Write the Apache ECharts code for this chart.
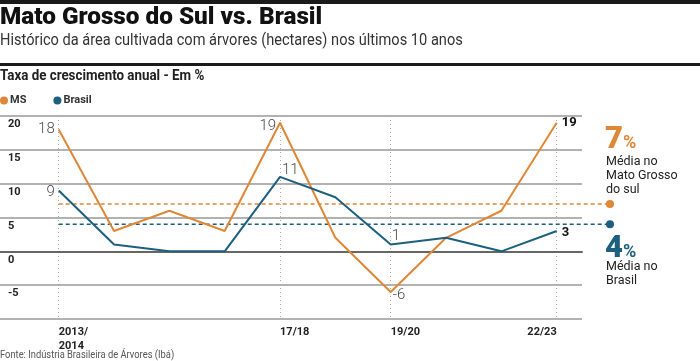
<!DOCTYPE html>
<html><head><meta charset="utf-8">
<script src="https://cdn.jsdelivr.net/npm/echarts@6/dist/echarts.min.js"></script>
<style>html,body{margin:0;padding:0;background:#fff}#c{width:700px;height:361px}</style>
</head><body><div id="c"></div>
<script>
const categories = ['2013/\n2014','14/15','15/16','16/17','17/18','18/19','19/20','20/21','21/22','22/23'];
const labeledIdx = [0,4,6,9];
const msValues = [18,3,6,3,19,2,-6,2,6,19];
const brValues = [9,1,0,0,11,8,1,2,0,3];
const msAverage = 7;
const brAverage = 4;
const yMin = -10, yMax = 20, yStep = 5;

const ORANGE = '#de8735', BLUE = '#1c5f7e';
const F = 'Roboto, sans-serif';

const thin = {fontFamily: F, fontWeight: 300, fontSize: 15, color: '#4a4a4a'};
const boldEnd = {fontFamily: F, fontWeight: 'bold', fontSize: 13, color: '#111'};
const msLabels = {0:{position:'left',distance:4,...thin},4:{position:'left',distance:4,offset:[0,3],...thin},6:{position:'right',distance:2,offset:[0,3],...thin},9:{position:'right',distance:5,...boldEnd}};
const brLabels = {0:{position:'left',distance:4,offset:[0,2],...thin},4:{position:'right',distance:2,offset:[0,-7],...thin},6:{position:'right',distance:1,offset:[0,-8],...thin},9:{position:'right',distance:5,offset:[0,2],...boldEnd}};
function items(vals, lab){return vals.map((v,i)=>lab[i]?{value:v,label:Object.assign({show:true},lab[i])}:{value:v});}

const xData = categories.map((c,i)=>({value:c,textStyle:{align: i===categories.length-1?'right':'left'}}));
const yBase = {min:yMin,max:yMax,interval:yStep};

const chart = echarts.init(document.getElementById('c'));
chart.setOption({
  animation:false,
  textStyle:{fontFamily:F},
  legend:{left:0,top:95,padding:0,icon:'circle',itemWidth:8,itemHeight:8,itemGap:27,
    textStyle:{fontFamily:F,fontWeight:'bold',fontSize:11,color:'#333',padding:[0,0,0,-3]},
    data:['MS','Brasil']},
  grid:[
    {left:0,right:118,top:116,bottom:42},
    {left:58.7,right:143.3,top:116,bottom:42},
    {left:58.7,right:90,top:116,bottom:42}
  ],
  xAxis:[
    {gridIndex:0,type:'value',min:0,max:1,axisLabel:{show:false},axisTick:{show:false},splitLine:{show:false},
      axisLine:{show:true,lineStyle:{color:'#666',width:2}}},
    {gridIndex:1,type:'category',boundaryGap:false,data:xData,axisTick:{show:false},axisLine:{show:false},
      axisLabel:{interval:(i)=>labeledIdx.includes(i),fontFamily:F,fontWeight:'bold',fontSize:11,color:'#222',lineHeight:14,margin:6},
      splitLine:{show:true,interval:(i)=>labeledIdx.includes(i),lineStyle:{color:'#aaa',width:1,type:[1,3]}}},
    {gridIndex:2,type:'value',min:0,max:1,show:false}
  ],
  yAxis:[
    Object.assign({gridIndex:0,type:'value',axisLine:{show:false},axisTick:{show:false},
      axisLabel:{inside:true,margin:8,verticalAlign:'top',padding:[3,0,0,0],fontFamily:F,fontWeight:'bold',fontSize:11,color:'#222',
        formatter:(v)=>v===yMin?'':String(v)},
      splitLine:{lineStyle:{color:'#999',width:1.6}}},yBase),
    Object.assign({gridIndex:1,type:'value',show:false,splitLine:{show:false}},yBase),
    Object.assign({gridIndex:2,type:'value',show:false,splitLine:{show:false}},yBase)
  ],
  series:[
    {type:'line',xAxisIndex:2,yAxisIndex:2,symbol:'none',silent:true,
      lineStyle:{color:ORANGE,width:1.5,type:[4,3]},
      data:[{value:[0,msAverage]},{value:[1,msAverage],symbol:'circle',symbolSize:8,itemStyle:{color:ORANGE}}]},
    {type:'line',xAxisIndex:2,yAxisIndex:2,symbol:'none',silent:true,
      lineStyle:{color:BLUE,width:1.5,type:[4,3]},
      data:[{value:[0,brAverage]},{value:[1,brAverage],symbol:'circle',symbolSize:8,itemStyle:{color:BLUE}}]},
    {name:'MS',type:'line',xAxisIndex:1,yAxisIndex:1,symbol:'circle',symbolSize:0,showSymbol:true,
      itemStyle:{color:ORANGE},lineStyle:{color:ORANGE,width:2},data:items(msValues,msLabels)},
    {name:'Brasil',type:'line',xAxisIndex:1,yAxisIndex:1,symbol:'circle',symbolSize:0,showSymbol:true,
      itemStyle:{color:BLUE},lineStyle:{color:BLUE,width:2},data:items(brValues,brLabels)}
  ],
  graphic:[
    {type:'rect',shape:{x:0,y:0,width:700,height:4},style:{fill:'#1a1a1a'}},
    {type:'rect',shape:{x:0,y:63,width:700,height:3},style:{fill:'#1a1a1a'}},
    {type:'text',x:0,y:18,style:{text:'Mato Grosso do Sul vs. Brasil',font:'900 24.3px Roboto',fill:'#111',verticalAlign:'middle'}},
    {type:'text',x:0,y:41,scaleX:0.885,style:{text:'Histórico da área cultivada com árvores (hectares) nos últimos 10 anos',font:'400 16.5px Roboto',fill:'#333',verticalAlign:'middle'}},
    {type:'text',x:0,y:76,scaleX:0.92,style:{text:'Taxa de crescimento anual - Em %',font:'bold 14.5px Roboto',fill:'#222',verticalAlign:'middle'}},
    {type:'text',x:605,y:140,style:{text:'{a|7}{b|%}',verticalAlign:'middle',rich:{a:{fontFamily:F,fontWeight:900,fontSize:31,fill:ORANGE},b:{fontFamily:F,fontWeight:'bold',fontSize:18,fill:ORANGE,padding:[6,0,0,0]}}}},
    {type:'text',x:606,y:155,style:{text:'Média no\nMato Grosso\ndo sul',font:'400 12.5px Roboto',fill:'#222',lineHeight:14}},
    {type:'text',x:605,y:249,style:{text:'{a|4}{b|%}',verticalAlign:'middle',rich:{a:{fontFamily:F,fontWeight:900,fontSize:31,fill:BLUE},b:{fontFamily:F,fontWeight:'bold',fontSize:18,fill:BLUE,padding:[6,0,0,0]}}}},
    {type:'text',x:606,y:260,style:{text:'Média no\nBrasil',font:'400 12.5px Roboto',fill:'#222',lineHeight:14}},
    {type:'text',x:0,y:355,scaleX:0.85,style:{text:'Fonte: Indústria Brasileira de Árvores (Ibá)',font:'400 11px Roboto',fill:'#555',verticalAlign:'middle'}}
  ]
});
</script></body></html>
